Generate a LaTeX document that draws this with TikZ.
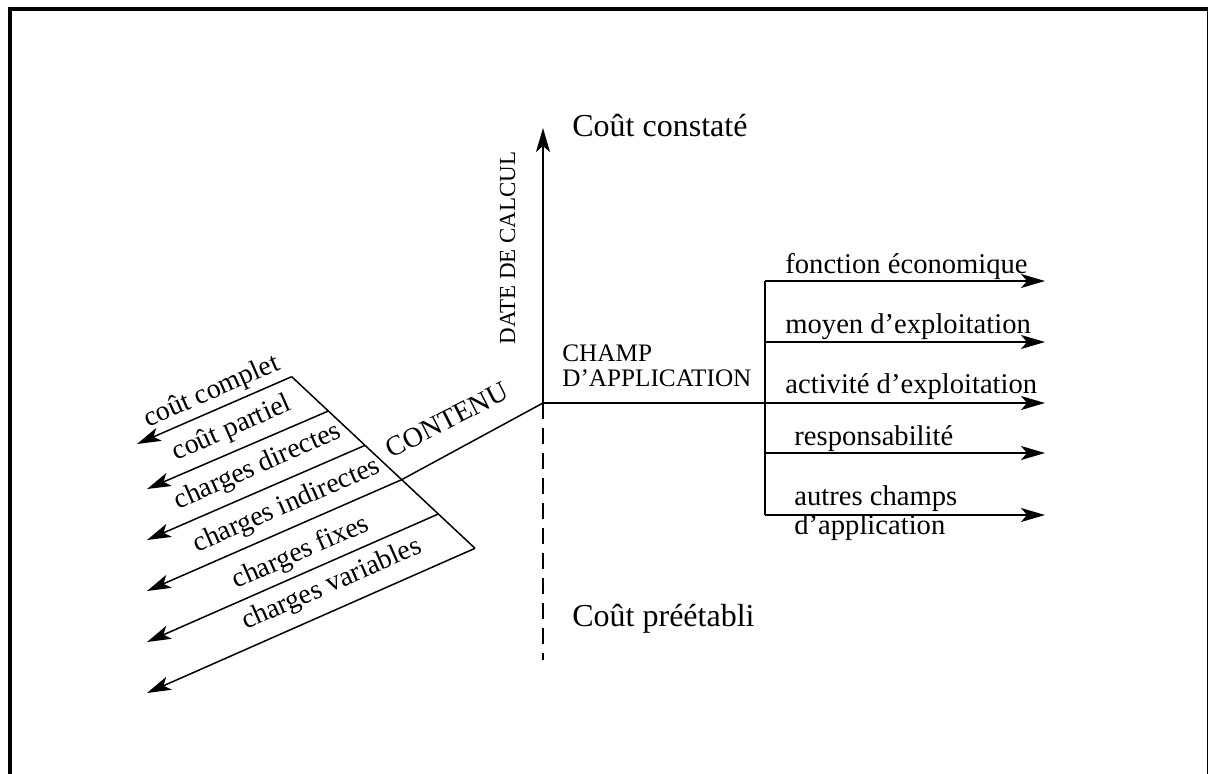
\documentclass[tikz,border=0pt]{standalone}
\usepackage{fontspec}
\setmainfont{Liberation Serif}
\usepackage{tikz}
\usetikzlibrary{arrows.meta,positioning,calc}

\begin{document}
\begin{tikzpicture}[
    x=0.5pt, y=0.5pt,
    every node/.style={inner sep=0pt},
    frame/.style={line width=2pt},
    axisline/.style={line width=0.75pt},
    arrow/.style={line width=0.75pt,-{Stealth[length=12pt,width=7pt,inset=3pt]}},
    dashline/.style={line width=1pt, dash pattern=on 8pt off 4.5pt},
    costlbl/.style={font=\fontsize{16}{19}\selectfont, anchor=base west},
    fieldlbl/.style={font=\fontsize{14.3}{14.3}\selectfont, anchor=base west, align=left},
    contlbl/.style={font=\fontsize{14}{16}\selectfont, rotate=23.7},
    axislbl/.style={font=\fontsize{12.6}{12.5}\selectfont, align=left}
]
\useasboundingbox (-543,-370) rectangle (665,403);

% Frame
\draw[frame] (-533,-420) rectangle (666,394);

% Axes
\coordinate (o) at (0,0);
\coordinate (top) at (0,275);
\coordinate (bottom) at (0,-257);
\coordinate (right) at (502,0);
\draw[arrow] (o) -- (top);
\draw[dashline] (o) -- (bottom);
\draw[arrow] (o) -- (right);

\node[costlbl] (constate) at (29,267) {Coût constaté};
\node[costlbl] (preetabli) at (29,-223) {Coût préétabli};
\node[font=\fontsize{11.5}{13}\selectfont, rotate=90, anchor=base] (date) at (-28,155) {DATE DE CALCUL};
\node[axislbl, anchor=south west] (champ) at (19,16) {CHAMP\\D'APPLICATION};

% Champ d'application
\coordinate (b1) at (222,122);
\coordinate (b2) at (222,61);
\coordinate (b4) at (222,-50);
\coordinate (b5) at (222,-112);
\coordinate (e1) at (502,122);
\coordinate (e2) at (502,61);
\coordinate (e4) at (502,-50);
\coordinate (e5) at (502,-112);
\draw[axisline] (b1) -- (b5);
\draw[arrow] (b1) -- (e1);
\draw[arrow] (b2) -- (e2);
\draw[arrow] (b4) -- (e4);
\draw[arrow] (b5) -- (e5);

\node[fieldlbl] (fonction) at (242,130) {fonction économique};
\node[fieldlbl] (moyen) at (242,70) {moyen d'exploitation};
\node[fieldlbl] (activite) at (242,10) {activité d'exploitation};
\node[fieldlbl] (respons) at (251,-42) {responsabilité};
\node[fieldlbl, anchor=south west] (autres) at (251,-138) {autres champs\\d'application};

% Contenu
\coordinate (d1) at (-251.3,26.3);
\coordinate (d6) at (-68,-145.3);
\coordinate (d2) at ($(d1)!0.2!(d6)$);
\coordinate (d3) at ($(d1)!0.4!(d6)$);
\coordinate (d4) at ($(d1)!0.6!(d6)$);
\coordinate (d5) at ($(d1)!0.8!(d6)$);
\coordinate (t1) at (-406,-41);
\coordinate (t2) at (-396,-86);
\coordinate (t3) at (-396,-137);
\coordinate (t4) at (-396,-188);
\coordinate (t5) at (-396,-239);
\coordinate (t6) at (-396,-290);
\draw[axisline] (d1) -- (d6);
\draw[axisline] (o) -- (d4);
\draw[arrow] (d1) -- (t1);
\draw[arrow] (d2) -- (t2);
\draw[arrow] (d3) -- (t3);
\draw[arrow] (d4) -- (t4);
\draw[arrow] (d5) -- (t5);
\draw[arrow] (d6) -- (t6);

\node[contlbl] (complet) at (-331,11) {coût complet};
\node[contlbl] (partiel) at (-311,-26) {coût partiel};
\node[contlbl] (directes) at (-285,-64) {charges directes};
\node[contlbl] (indirectes) at (-256,-103) {charges indirectes};
\node[contlbl] (fixes) at (-242,-150) {charges fixes};
\node[contlbl] (variables) at (-211,-182) {charges variables};
\node[contlbl, rotate=3.3] (contenu) at (-96,-17) {CONTENU};

\end{tikzpicture}
\end{document}
